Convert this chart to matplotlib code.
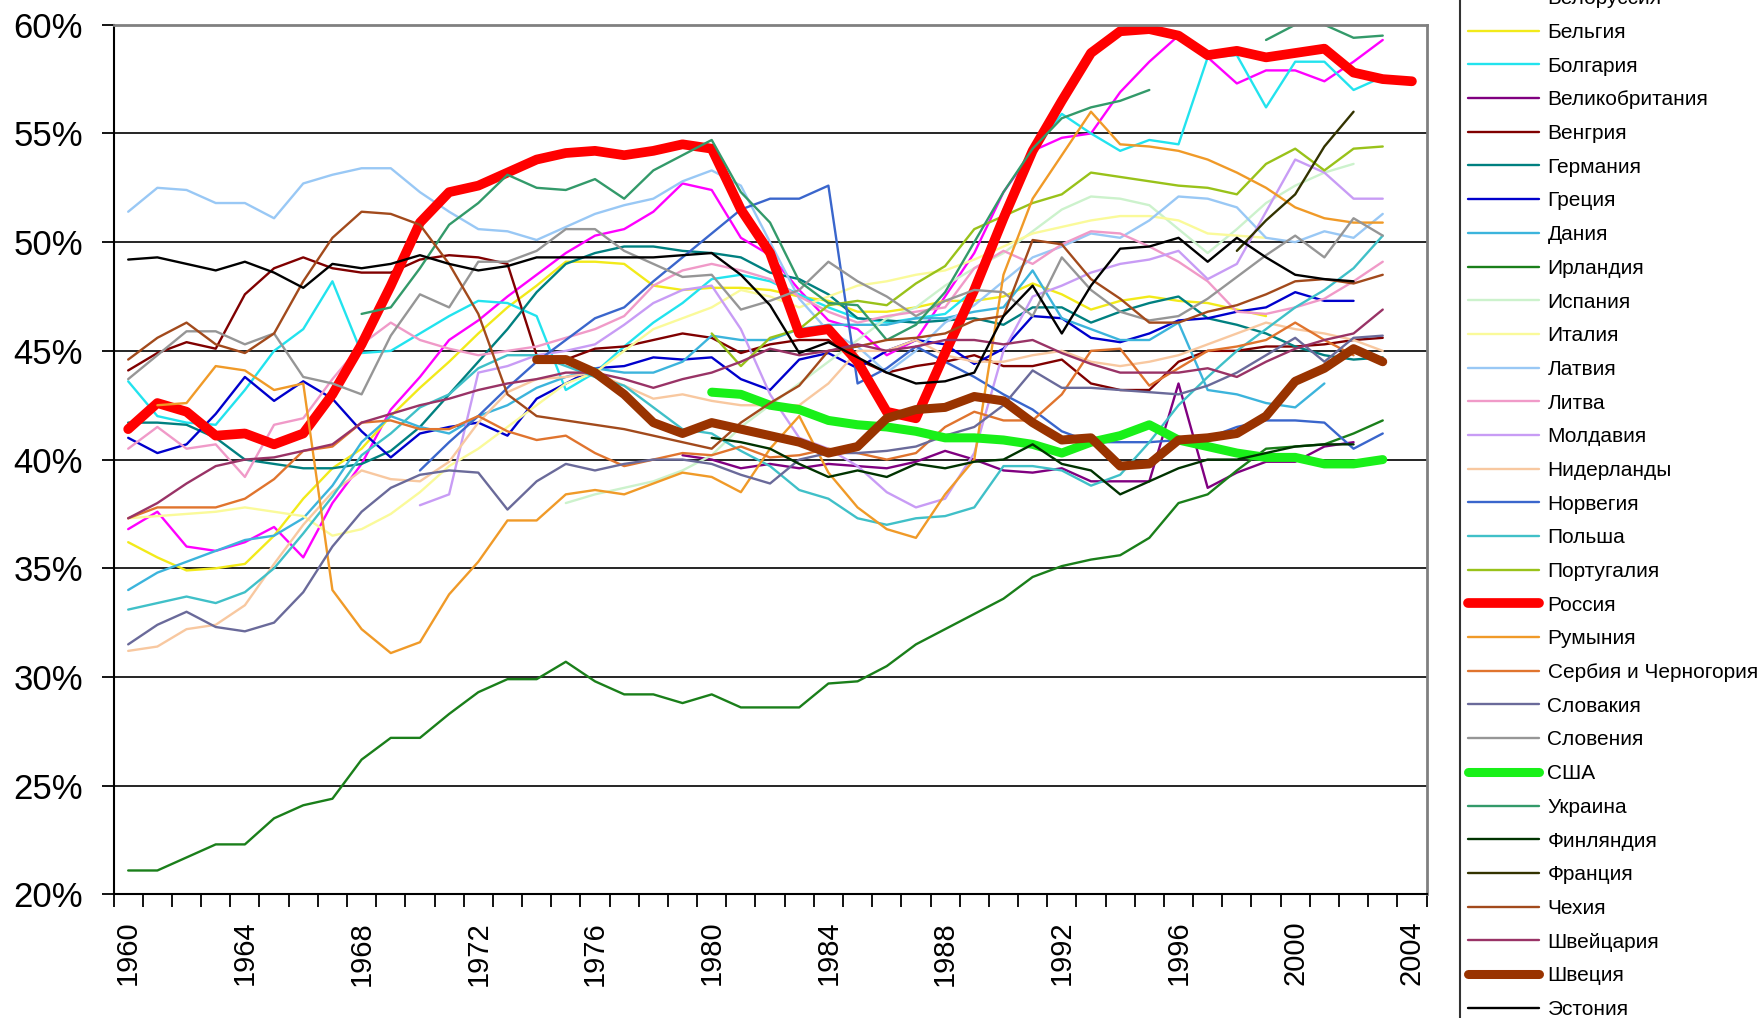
import numpy as np
import matplotlib.pyplot as plt

plt.rcParams['font.family'] = ['Liberation Sans', 'DejaVu Sans']

years = list(range(1960, 2005))

# доля (%) по странам; первый год у каждой страны свой
belarus = [36.8, 37.6, 36.0, 35.8, 36.2, 36.9, 35.5, 38.0, 39.8, 42.3,
           43.8, 45.5, 46.4, 47.5, 48.5, 49.5, 50.3, 50.6, 51.4, 52.7,
           52.4, 50.2, 49.4, 47.8, 46.4, 46.0, 44.8, 45.5, 47.5, 49.5,
           52.3, 54.2, 54.8, 55.0, 56.9, 58.3, 59.5, 58.5, 57.3, 57.9,
           57.9, 57.4, 58.3, 59.3]
belgium = [36.2, 35.5, 34.9, 35.0, 35.2, 36.5, 38.2, 39.6, 40.5, 42.0,
           43.3, 44.5, 45.8, 47.0, 48.0, 49.1, 49.1, 49.0, 48.0, 47.8,
           47.9, 47.9, 47.8, 47.5, 47.3, 46.8, 46.8, 47.0, 47.3, 47.3,
           47.5, 48.1, 47.6, 46.9, 47.3, 47.5, 47.3, 47.2, 46.9, 46.6]
bulgaria = [43.6, 42.0, 41.7, 41.6, 43.2, 45.0, 46.0, 48.2, 44.9, 45.0,
            45.8, 46.6, 47.3, 47.2, 46.6, 43.2, 44.0, 45.2, 46.3, 47.2,
            48.3, 48.5, 48.2, 47.6, 47.0, 46.5, 46.3, 46.5, 46.7, 47.8,
            51.5, 54.2, 55.9, 55.0, 54.2, 54.7, 54.5, 58.5, 58.6, 56.2,
            58.3, 58.3, 57.0, 57.6]
uk = [40.2, 40.0, 39.6, 39.8, 39.6, 39.8, 39.7, 39.6, 39.9, 40.4, 40.0,
      39.5, 39.4, 39.6, 39.0, 39.0, 39.0, 43.5, 38.7, 39.4, 39.9,
      39.9, 40.6, 40.8]
hungary = [44.1, 44.9, 45.4, 45.1, 47.6, 48.8, 49.3, 48.8, 48.6, 48.6,
           49.2, 49.4, 49.3, 49.0, 44.8, 44.6, 45.1, 45.2, 45.5, 45.8,
           45.6, 44.9, 45.3, 45.5, 45.5, 44.6, 44.0, 44.3, 44.5, 44.8,
           44.3, 44.3, 44.6, 43.5, 43.2, 43.2, 44.5, 45.0, 45.0, 45.2,
           45.2, 45.3, 45.5, 45.6]
germany = [41.7, 41.7, 41.6, 41.0, 40.0, 39.8, 39.6, 39.6, 39.8, 40.4,
           41.5, 43.0, 44.5, 46.0, 47.7, 49.0, 49.5, 49.8, 49.8, 49.6,
           49.5, 49.3, 48.6, 48.3, 47.6, 46.5, 46.4, 46.3, 46.4, 46.5,
           46.2, 47.0, 47.0, 46.3, 46.8, 47.2, 47.5, 46.5, 46.2, 45.8,
           45.2, 44.8, 44.6, 44.7]
greece = [41.0, 40.3, 40.7, 42.1, 43.8, 42.7, 43.6, 42.8, 41.3, 40.1,
          41.2, 41.5, 41.7, 41.1, 42.8, 43.5, 44.2, 44.3, 44.7, 44.6,
          44.7, 43.7, 43.2, 44.6, 44.9, 44.2, 45.0, 45.5, 45.3, 44.4,
          45.1, 46.6, 46.5, 45.6, 45.4, 45.8, 46.4, 46.5, 46.8, 47.0,
          47.7, 47.3, 47.3]
denmark = [34.0, 34.8, 35.3, 35.8, 36.3, 36.5, 37.3, 38.8, 40.8, 42.0,
           41.5, 41.2, 42.0, 42.5, 43.3, 43.8, 44.2, 44.0, 44.0, 44.5,
           45.7, 45.5, 45.5, 46.0, 46.2, 46.2, 46.2, 46.5, 46.5, 46.8,
           47.0, 48.7, 46.5, 46.0, 45.5, 45.5, 46.3, 43.2, 43.0, 42.6,
           42.4, 43.5]
ireland = [21.1, 21.1, 21.7, 22.3, 22.3, 23.5, 24.1, 24.4, 26.2, 27.2,
           27.2, 28.3, 29.3, 29.9, 29.9, 30.7, 29.8, 29.2, 29.2, 28.8,
           29.2, 28.6, 28.6, 28.6, 29.7, 29.8, 30.5, 31.5, 32.2, 32.9,
           33.6, 34.6, 35.1, 35.4, 35.6, 36.4, 38.0, 38.4, 39.5, 40.5,
           40.6, 40.7, 41.2, 41.8]
spain = [38.0, 38.4, 38.7, 39.0, 39.5,
         40.2, 41.5, 42.5, 43.5, 44.5, 45.5, 46.5, 47.0, 48.0, 48.8,
         49.5, 50.5, 51.5, 52.1, 52.0, 51.7, 50.6, 49.5, 50.6, 51.8,
         52.6, 53.2, 53.6]
italy = [37.3, 37.4, 37.5, 37.6, 37.8, 37.6, 37.4, 36.5, 36.8, 37.5,
         38.5, 39.7, 40.5, 41.5, 42.5, 43.5, 44.0, 45.0, 46.0, 46.5,
         47.0, 47.8, 47.5, 47.0, 47.5, 48.0, 48.2, 48.5, 48.7, 49.2,
         49.8, 50.4, 50.7, 51.0, 51.2, 51.2, 51.0, 50.4, 50.3, 50.2]
latvia = [51.4, 52.5, 52.4, 51.8, 51.8, 51.1, 52.7, 53.1, 53.4, 53.4,
          52.3, 51.4, 50.6, 50.5, 50.1, 50.7, 51.3, 51.7, 52.0, 52.8,
          53.3, 52.6, 50.0, 47.4, 45.9, 45.2, 44.0, 45.0, 46.3, 47.1,
          48.2, 49.3, 49.8, 50.4, 50.2, 51.0, 52.1, 52.0, 51.6, 50.2,
          50.0, 50.5, 50.2, 51.3]
lithuania = [40.5, 41.5, 40.5, 40.7, 39.2, 41.6, 41.9, 43.7, 45.3, 46.3,
             45.5, 45.1, 44.8, 45.0, 45.2, 45.6, 46.0, 46.6, 48.0, 48.7,
             49.0, 48.7, 48.3, 47.5, 46.8, 46.3, 46.6, 46.8, 47.0, 48.8,
             49.6, 49.0, 49.9, 50.5, 50.4, 49.8, 49.1, 48.2, 46.8, 46.7,
             47.0, 47.4, 48.2, 49.1]
moldova = [37.9, 38.4, 44.0, 44.3, 44.8, 45.0, 45.3, 46.2, 47.2, 47.8,
           48.0, 46.0, 43.0, 41.0, 40.5, 39.7, 38.5, 37.8, 38.2, 40.3,
           45.0, 47.5, 48.0, 48.6, 49.0, 49.2, 49.6, 48.3, 49.0, 51.4,
           53.8, 53.2, 52.0, 52.0]
netherlands = [31.2, 31.4, 32.2, 32.4, 33.3, 35.2, 37.0, 38.5, 39.5, 39.1,
               39.0, 39.9, 41.7, 43.1, 43.7, 43.8, 44.0, 43.4, 42.8, 43.0,
               42.7, 42.5, 42.5, 42.5, 43.5, 45.0, 45.0, 45.5, 44.8, 44.5,
               44.5, 44.8, 45.0, 44.5, 44.3, 44.5, 44.8, 45.3, 45.8, 46.3,
               46.0, 45.8, 45.5, 45.0]
norway = [39.5, 40.8, 42.0, 43.3, 44.5, 45.5, 46.5, 47.0, 48.2, 49.3,
          50.4, 51.5, 52.0, 52.0, 52.6, 43.5, 44.2, 45.2, 44.5, 43.8,
          43.0, 42.3, 41.3, 40.8, 40.8, 40.8, 40.9, 41.0, 41.5, 41.8,
          41.8, 41.7, 40.5, 41.2]
poland = [33.1, 33.4, 33.7, 33.4, 33.9, 35.0, 36.6, 38.3, 40.2, 41.2,
          42.4, 43.0, 44.2, 44.8, 44.8, 44.3, 43.8, 43.4, 42.4, 41.4,
          41.2, 40.4, 39.7, 38.6, 38.2, 37.3, 37.0, 37.3, 37.4, 37.8,
          39.7, 39.7, 39.5, 38.8, 39.3, 40.8, 42.5, 43.8, 45.0, 46.0,
          47.0, 47.8, 48.8, 50.3]
portugal = [45.8, 44.3, 45.6, 46.0, 47.1, 47.3, 47.1, 48.1, 48.9, 50.6,
            51.2, 51.8, 52.2, 53.2, 53.0, 52.8, 52.6, 52.5, 52.2, 53.6,
            54.3, 53.3, 54.3, 54.4]
russia = [41.4, 42.6, 42.2, 41.1, 41.2, 40.7, 41.2, 43.0, 45.3, 48.0,
          50.9, 52.3, 52.6, 53.2, 53.8, 54.1, 54.2, 54.0, 54.2, 54.5,
          54.3, 51.5, 49.5, 45.8, 46.0, 44.5, 42.2, 41.9, 44.9, 47.8,
          51.1, 54.2, 56.5, 58.7, 59.7, 59.8, 59.5, 58.6, 58.8, 58.5,
          58.7, 58.9, 57.8, 57.5, 57.4]
romania = [42.5, 42.6, 44.3, 44.1, 43.2, 43.5, 34.0, 32.2, 31.1,
           31.6, 33.8, 35.3, 37.2, 37.2, 38.4, 38.6, 38.4, 38.9, 39.4,
           39.2, 38.5, 40.5, 42.0, 39.4, 37.8, 36.8, 36.4, 38.4, 40.0,
           48.5, 52.0, 54.0, 56.0, 54.5, 54.4, 54.2, 53.8, 53.2, 52.5,
           51.6, 51.1, 50.9, 50.9]
serbia = [37.3, 37.8, 37.8, 37.8, 38.2, 39.1, 40.4, 40.6, 41.7, 41.8,
          41.4, 41.4, 42.0, 41.3, 40.9, 41.1, 40.3, 39.7, 40.0, 40.3,
          40.2, 40.6, 40.1, 40.2, 40.5, 40.3, 40.0, 40.3, 41.5, 42.2,
          41.8, 41.8, 43.0, 45.0, 45.1, 43.4, 44.2, 45.0, 45.2, 45.5,
          46.3, 45.5, 44.8]
slovakia = [31.5, 32.4, 33.0, 32.3, 32.1, 32.5, 33.9, 36.0, 37.6, 38.7,
            39.3, 39.5, 39.4, 37.7, 39.0, 39.8, 39.5, 39.8, 40.0, 40.0,
            39.8, 39.3, 38.9, 40.0, 40.3, 40.3, 40.4, 40.6, 41.1, 41.5,
            42.5, 44.1, 43.3, 43.3, 43.2, 43.1, 43.0, 43.4, 44.0, 44.8,
            45.6, 44.5, 45.6, 45.7]
slovenia = [43.7, 44.8, 45.9, 45.9, 45.3, 45.8, 43.8, 43.5, 43.0, 45.7,
            47.6, 47.0, 49.1, 49.1, 49.6, 50.6, 50.6, 49.6, 49.0, 48.4,
            48.5, 46.9, 47.3, 47.8, 49.1, 48.2, 47.5, 46.6, 47.3, 47.8,
            47.7, 46.6, 49.3, 47.8, 46.8, 46.4, 46.6, 47.4, 48.4, 49.4,
            50.3, 49.3, 51.1, 50.3]
usa = [43.1, 43.0, 42.5, 42.3, 41.8, 41.6, 41.5, 41.3, 41.0, 41.0,
       40.9, 40.7, 40.3, 40.8, 41.1, 41.6, 40.9, 40.6, 40.3, 40.1,
       40.1, 39.8, 39.8, 40.0]
ukraine = [46.7, 47.0,
           48.8, 50.8, 51.8, 53.1, 52.5, 52.4, 52.9, 52.0, 53.3, 54.0,
           54.7, 52.3, 50.9, 48.2, 47.2, 47.1, 45.5, 46.2, 47.7, 50.0,
           52.3, 54.3, 55.7, 56.2, 56.5, 57.0, None, None, None, 59.3,
           60.0, 60.0, 59.4, 59.5]
finland = [41.0, 40.8, 40.5, 39.8, 39.2, 39.5, 39.2, 39.8, 39.6, 39.9,
           40.0, 40.7, 39.8, 39.5, 38.4, 39.0, 39.6, 40.0, 40.0, 40.3,
           40.6, 40.7, 40.7]
france = [49.6, 51.0, 52.2, 54.4, 56.0]
czech = [44.6, 45.6, 46.3, 45.3, 44.9, 45.8, 48.2, 50.2, 51.4, 51.3,
         50.8, 49.0, 46.7, 43.0, 42.0, 41.8, 41.6, 41.4, 41.1, 40.8,
         40.5, 41.7, 42.6, 43.4, 45.0, 45.2, 45.5, 45.6, 45.8, 46.4,
         46.6, 50.1, 49.9, 48.3, 47.4, 46.3, 46.3, 46.8, 47.1, 47.6,
         48.2, 48.3, 48.1, 48.5]
switzerland = [37.3, 38.0, 38.9, 39.7, 40.0, 40.1, 40.4, 40.7, 41.7, 42.1,
               42.5, 42.8, 43.2, 43.5, 43.7, 44.0, 44.0, 43.7, 43.3, 43.7,
               44.0, 44.5, 45.1, 44.8, 45.0, 45.3, 45.0, 45.2, 45.5, 45.5,
               45.3, 45.5, 44.9, 44.4, 44.0, 44.0, 44.0, 44.2, 43.8, 44.5,
               45.1, 45.5, 45.8, 46.9]
sweden = [44.6, 44.6, 44.0, 43.0, 41.7, 41.2,
          41.7, 41.4, 41.1, 40.8, 40.3, 40.6, 41.9, 42.3, 42.4, 42.9,
          42.7, 41.7, 40.9, 41.0, 39.7, 39.8, 40.9, 41.0, 41.2, 42.0,
          43.6, 44.2, 45.1, 44.5]
estonia = [49.2, 49.3, 49.0, 48.7, 49.1, 48.6, 47.9, 49.0, 48.8, 49.0,
           49.4, 49.0, 48.7, 48.9, 49.3, 49.3, 49.3, 49.3, 49.3, 49.4,
           49.5, 48.5, 47.1, 44.9, 45.4, 44.7, 44.0, 43.5, 43.6, 44.0,
           46.6, 48.0, 45.8, 48.0, 49.7, 49.8, 50.2, 49.1, 50.2, 49.3,
           48.5, 48.3, 48.2]

# название, первый год, данные (порядок как в легенде)
series = [
    ('Белоруссия', 1960, belarus),
    ('Бельгия', 1960, belgium),
    ('Болгария', 1960, bulgaria),
    ('Великобритания', 1979, uk),
    ('Венгрия', 1960, hungary),
    ('Германия', 1960, germany),
    ('Греция', 1960, greece),
    ('Дания', 1960, denmark),
    ('Ирландия', 1960, ireland),
    ('Испания', 1975, spain),
    ('Италия', 1960, italy),
    ('Латвия', 1960, latvia),
    ('Литва', 1960, lithuania),
    ('Молдавия', 1970, moldova),
    ('Нидерланды', 1960, netherlands),
    ('Норвегия', 1970, norway),
    ('Польша', 1960, poland),
    ('Португалия', 1980, portugal),
    ('Россия', 1960, russia),
    ('Румыния', 1961, romania),
    ('Сербия и Черногория', 1960, serbia),
    ('Словакия', 1960, slovakia),
    ('Словения', 1960, slovenia),
    ('США', 1980, usa),
    ('Украина', 1968, ukraine),
    ('Финляндия', 1980, finland),
    ('Франция', 1998, france),
    ('Чехия', 1960, czech),
    ('Швейцария', 1960, switzerland),
    ('Швеция', 1974, sweden),
    ('Эстония', 1960, estonia),
]

colors = {
    'Белоруссия': '#ff00ff', 'Бельгия': '#f2ea1a', 'Болгария': '#22e3ee',
    'Великобритания': '#800080', 'Венгрия': '#800000', 'Германия': '#008080',
    'Греция': '#0000cc', 'Дания': '#3cb4dc', 'Ирландия': '#1a7f1a',
    'Испания': '#ccf2cc', 'Италия': '#fafa9a', 'Латвия': '#99c8f5',
    'Литва': '#f09ac8', 'Молдавия': '#c89cf5', 'Нидерланды': '#f8c8a0',
    'Норвегия': '#3a66cc', 'Польша': '#40c0c8', 'Португалия': '#99c21a',
    'Россия': '#ff0000', 'Румыния': '#f09a28', 'Сербия и Черногория': '#e0742e',
    'Словакия': '#6a6a9a', 'Словения': '#969696', 'США': '#19f019',
    'Украина': '#339a6a', 'Финляндия': '#003300', 'Франция': '#333300',
    'Чехия': '#a24a1c', 'Швейцария': '#993366', 'Швеция': '#993300',
    'Эстония': '#000000',
}
thick = {'Россия': 7.0, 'США': 6.5, 'Швеция': 6.5}


def to_row(start, vals):
    row = [np.nan] * len(years)
    for k, v in enumerate(vals):
        row[start - years[0] + k] = np.nan if v is None else v
    return np.array(row)


W, H = 1764, 1018
fig = plt.figure(figsize=(W / 100, H / 100), dpi=100)
ax = fig.add_axes([113.6 / W, 1 - 894.4 / H, (1426.5 - 113.6) / W, (894.4 - 24.75) / H])

x = np.arange(len(years))
handles = []
for name, start, vals in series:
    ln, = ax.plot(x, to_row(start, vals), color=colors[name],
                  lw=thick.get(name, 1.7), solid_capstyle='round',
                  solid_joinstyle='round')
    handles.append(ln)

ax.set_xlim(-0.5, len(years) - 0.5)
ax.set_ylim(20, 60)

ax.set_yticks(range(20, 61, 5))
ax.set_yticklabels(['%d%%' % v for v in range(20, 61, 5)], fontsize=25)
ax.yaxis.grid(True, color='black', lw=1.2)
ax.set_axisbelow(True)
ax.tick_params(axis='y', direction='out', length=9, width=1.3, pad=13)

# засечки между категориями, подписи каждые 4 года
ax.set_xticks(np.arange(-0.5, len(years), 1))
ax.set_xticklabels([])
ax.tick_params(axis='x', which='major', direction='out', length=9, width=1.3)
ax.set_xticks(range(0, len(years), 4), minor=True)
ax.set_xticklabels([str(years[i]) for i in range(0, len(years), 4)],
                   minor=True, rotation=90, fontsize=21)
ax.tick_params(axis='x', which='minor', length=0, pad=19)

for s in ['left', 'bottom']:
    ax.spines[s].set_color('black')
    ax.spines[s].set_linewidth(1.5)
for s in ['top', 'right']:
    ax.spines[s].set_color('#808080')
    ax.spines[s].set_linewidth(2)

leg = fig.legend(handles, [s[0] for s in series], loc='upper left',
                 bbox_to_anchor=(1460 / W, 1 + 19 / H),
                 fontsize=15, handlelength=3.4, handletextpad=0.4,
                 labelspacing=0.705, borderpad=0.4, borderaxespad=0,
                 frameon=True, fancybox=False, edgecolor='black')
leg.get_frame().set_linewidth(1.5)

fig.savefig('out.png', dpi=100)
